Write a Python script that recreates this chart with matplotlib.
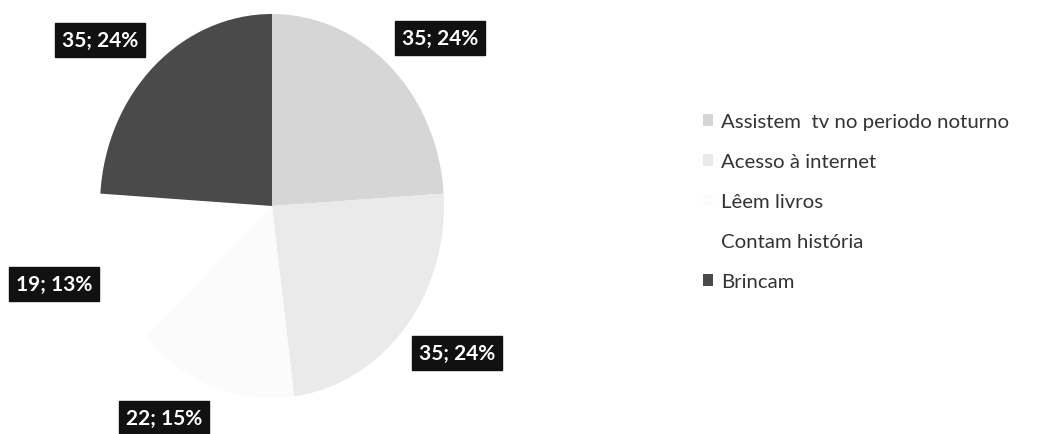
import numpy as np
import matplotlib
matplotlib.use("Agg")
import matplotlib.pyplot as plt

categories = ["Assistem  tv no periodo noturno", "Acesso à internet", "Lêem livros",
              "Contam história", "Brincam"]
values = [35, 35, 22, 19, 35]
colors = ["#d6d6d6", "#eaeaea", "#fbfbfb", "#ffffff", "#4a4a4a"]

W, H = 1043, 435
fig = plt.figure(figsize=(W / 100, H / 100), dpi=100)
ax = fig.add_axes([0, 0, 1, 1])

wedges, _ = ax.pie(values, colors=colors, startangle=90, counterclock=False,
                   radius=1.0, center=(0, 0), wedgeprops=dict(linewidth=0))

# pixel geometry of the (slightly elliptical) scanned pie
cx, cy, rx, ry = 272, 207, 172, 192
ax.set_xlim(-cx / rx, (W - cx) / rx)
ax.set_ylim(-(H - cy) / ry, cy / ry)
ax.set_aspect("auto")
ax.axis("off")

total = sum(values)
label_r = [1.31, 1.32, 1.27, 1.33, 1.32]
label_shift = [-5, 4, -10, -2, 6]
for w, v, lr, sh in zip(wedges, values, label_r, label_shift):
    mid = np.deg2rad((w.theta1 + w.theta2) / 2 + sh)
    x, y = lr * np.cos(mid), lr * np.sin(mid)
    ax.text(x, y, f"{v}; {round(100 * v / total)}%", ha="center", va="center",
            color="white", fontsize=15, fontweight="bold", family=["Lato", "DejaVu Sans"],
            bbox=dict(boxstyle="square,pad=0.33", fc="#111111", ec="#111111"))

leg = fig.legend(wedges, categories, loc="upper left", bbox_to_anchor=(703 / W, 1 - 114 / H),
                 frameon=False, handlelength=0.5, handleheight=0.5,
                 handletextpad=0.4, labelspacing=1.13, borderpad=0, borderaxespad=0,
                 prop=dict(family=["Lato", "DejaVu Sans"], size=14.7))
for t in leg.get_texts():
    t.set_color("#333333")

fig.savefig("out.png", dpi=100)
